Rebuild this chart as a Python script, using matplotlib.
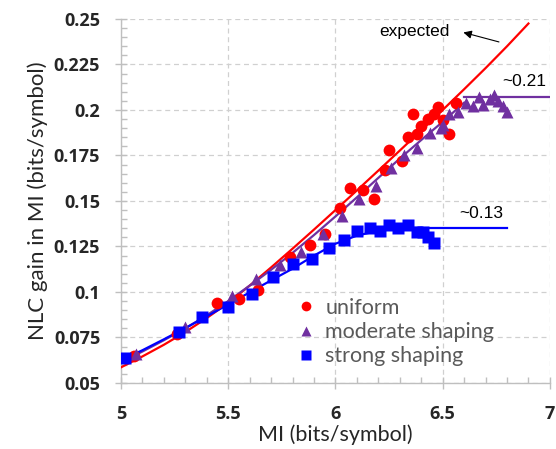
import matplotlib
matplotlib.use("Agg")
import matplotlib.pyplot as plt
from matplotlib.ticker import MultipleLocator, FuncFormatter

# ---- data ----
uniform_x = [5.06, 5.26, 5.45, 5.55, 5.64, 5.79, 5.88, 5.95, 6.02, 6.07, 6.13, 6.18, 6.23,
             6.25, 6.31, 6.34, 6.36, 6.38, 6.40, 6.43, 6.46, 6.48, 6.50, 6.53, 6.56]
uniform_y = [0.065, 0.077, 0.094, 0.096, 0.101, 0.119, 0.126, 0.132, 0.146, 0.157, 0.156, 0.151, 0.167,
             0.178, 0.172, 0.185, 0.198, 0.187, 0.191, 0.195, 0.198, 0.2015, 0.1945, 0.187, 0.204]

moderate_x = [5.07, 5.30, 5.52, 5.63, 5.74, 5.84, 5.94, 6.03, 6.11, 6.19, 6.26, 6.32, 6.38, 6.44,
              6.49, 6.50, 6.53, 6.57, 6.61, 6.64, 6.67, 6.69, 6.72, 6.74, 6.76, 6.78, 6.80]
moderate_y = [0.066, 0.081, 0.098, 0.107, 0.115, 0.122, 0.132, 0.142, 0.151, 0.158, 0.168, 0.175, 0.179, 0.1875,
              0.190, 0.192, 0.198, 0.199, 0.204, 0.202, 0.207, 0.203, 0.206, 0.208, 0.205, 0.202, 0.199]

strong_x = [5.02, 5.27, 5.38, 5.50, 5.61, 5.71, 5.80, 5.89, 5.97, 6.04, 6.10, 6.16, 6.21,
            6.25, 6.29, 6.34, 6.38, 6.41, 6.43, 6.46]
strong_y = [0.064, 0.078, 0.086, 0.0915, 0.099, 0.108, 0.1155, 0.118, 0.124, 0.1285, 0.1335, 0.135, 0.1335,
            0.137, 0.135, 0.137, 0.133, 0.133, 0.130, 0.127]

# trend curves
curve_red_x = [5.0, 5.1, 5.2, 5.3, 5.4, 5.5, 5.6, 5.7, 5.8, 5.9, 6.0, 6.1, 6.2, 6.3, 6.4, 6.5, 6.6, 6.7, 6.8, 6.9]
curve_red_y = [0.0586, 0.0646, 0.0710, 0.0780, 0.0857, 0.0940, 0.1035, 0.1135, 0.1238, 0.1343, 0.1450,
               0.1558, 0.1667, 0.1777, 0.1888, 0.2000, 0.2114, 0.2230, 0.2350, 0.2475]

curve_purple_x = [5.0, 5.1, 5.2, 5.3, 5.4, 5.5, 5.6, 5.7, 5.8, 5.9, 6.0, 6.1, 6.2, 6.3, 6.4, 6.5, 6.6]
curve_purple_y = [0.0615, 0.0673, 0.0735, 0.0800, 0.0872, 0.0950, 0.1035, 0.1122, 0.1215, 0.1313, 0.1415,
                  0.1520, 0.1627, 0.1733, 0.1835, 0.1935, 0.2040]
plateau_purple_x = [6.6, 7.0]
plateau_purple_y = [0.2073, 0.2073]

curve_blue_x = [5.0, 5.1, 5.2, 5.3, 5.4, 5.5, 5.6, 5.7, 5.8, 5.9, 6.0, 6.1, 6.2, 6.3, 6.4]
curve_blue_y = [0.0625, 0.0680, 0.0740, 0.0802, 0.0866, 0.0932, 0.0998, 0.1064, 0.1128, 0.1200, 0.1265,
                0.1310, 0.1336, 0.1350, 0.1353]
plateau_blue_x = [6.4, 6.8]
plateau_blue_y = [0.1353, 0.1353]

labels = ["uniform", "moderate shaping", "strong shaping"]

RED = "#FF0000"
PURPLE = "#7030A0"
BLUE = "#0000FF"

fig = plt.figure(figsize=(5.56, 4.49), dpi=100)
ax = fig.add_axes([0.2176, 0.147, 0.7714, 0.8107])

ax.plot(curve_red_x, curve_red_y, color=RED, lw=1.6, zorder=3)
ax.plot(curve_purple_x, curve_purple_y, color=PURPLE, lw=1.6, zorder=3)
ax.plot(plateau_purple_x, plateau_purple_y, color=PURPLE, lw=1.6, zorder=3)
ax.plot(curve_blue_x, curve_blue_y, color=BLUE, lw=1.6, zorder=3)
ax.plot(plateau_blue_x, plateau_blue_y, color=BLUE, lw=1.6, zorder=3)

ax.plot(uniform_x, uniform_y, "o", color=RED, ms=8.5, mec="none", zorder=4)
ax.plot(moderate_x, moderate_y, "^", color=PURPLE, ms=9, mec="none", zorder=4)
ax.plot(strong_x, strong_y, "s", color=BLUE, ms=8, mec="none", zorder=5)

# legend handles (smaller markers, as in the reference)
h1, = ax.plot([], [], "o", color=RED, ms=7, mec="none", label=labels[0])
h2, = ax.plot([], [], "^", color=PURPLE, ms=7, mec="none", label=labels[1])
h3, = ax.plot([], [], "s", color=BLUE, ms=6.5, mec="none", label=labels[2])

ax.set_xlim(5, 7)
ax.set_ylim(0.05, 0.25)
ax.xaxis.set_major_locator(MultipleLocator(0.5))
ax.xaxis.set_minor_locator(MultipleLocator(0.1))
ax.yaxis.set_major_locator(MultipleLocator(0.025))
ax.yaxis.set_minor_locator(MultipleLocator(0.005))

def fmt(v, pos):
    return ("%.3f" % v).rstrip("0").rstrip(".")
ax.xaxis.set_major_formatter(FuncFormatter(fmt))
ax.yaxis.set_major_formatter(FuncFormatter(fmt))

for s in ["top", "right"]:
    ax.spines[s].set_visible(False)
for s in ["left", "bottom"]:
    ax.spines[s].set_color("#BFBFBF")
    ax.spines[s].set_linewidth(1.0)

ax.tick_params(which="major", direction="inout", length=8, color="#BFBFBF", width=1.0)
ax.tick_params(which="minor", direction="in", length=4, color="#BFBFBF", width=1.0)
ax.tick_params(axis="y", which="major", labelsize=13, labelcolor="#262626", pad=11)
ax.tick_params(axis="x", which="major", labelsize=13, labelcolor="#262626", pad=12)
for lab in ax.get_xticklabels() + ax.get_yticklabels():
    lab.set_fontweight("bold")
    lab.set_family("Open Sans")

ax.grid(True, which="major", ls=(0, (4, 3)), color="#D0D0D0", lw=0.9)
ax.set_axisbelow(True)

ax.set_xlabel("MI (bits/symbol)", fontsize=15.5, family="Lato", color="#262626", labelpad=1)
ax.set_ylabel("NLC gain in MI (bits/symbol)", fontsize=16, family="Lato", color="#262626", labelpad=4)

leg = ax.legend(handles=[h1, h2, h3], loc="upper left", bbox_to_anchor=(0.406, 0.234),
                frameon=False, handlelength=1.0, handletextpad=0.4, borderpad=0,
                borderaxespad=0, labelspacing=0.2, prop={"family": "Lato", "size": 15.5})
for t in leg.get_texts():
    t.set_color("#595959")

ax.text(6.37, 0.2430, "expected", fontsize=12.5, family="Liberation Sans", ha="center", va="center")
ax.annotate("", xy=(6.584, 0.2430), xytext=(6.775, 0.2370),
            arrowprops=dict(arrowstyle="-|>", color="black", lw=0.8, mutation_scale=12))
ax.text(6.879, 0.2155, "~0.21", fontsize=12.5, family="Liberation Sans", ha="center", va="center")
ax.text(6.678, 0.1429, "~0.13", fontsize=12.5, family="Liberation Sans", ha="center", va="center")

fig.savefig("out.png", dpi=100)
